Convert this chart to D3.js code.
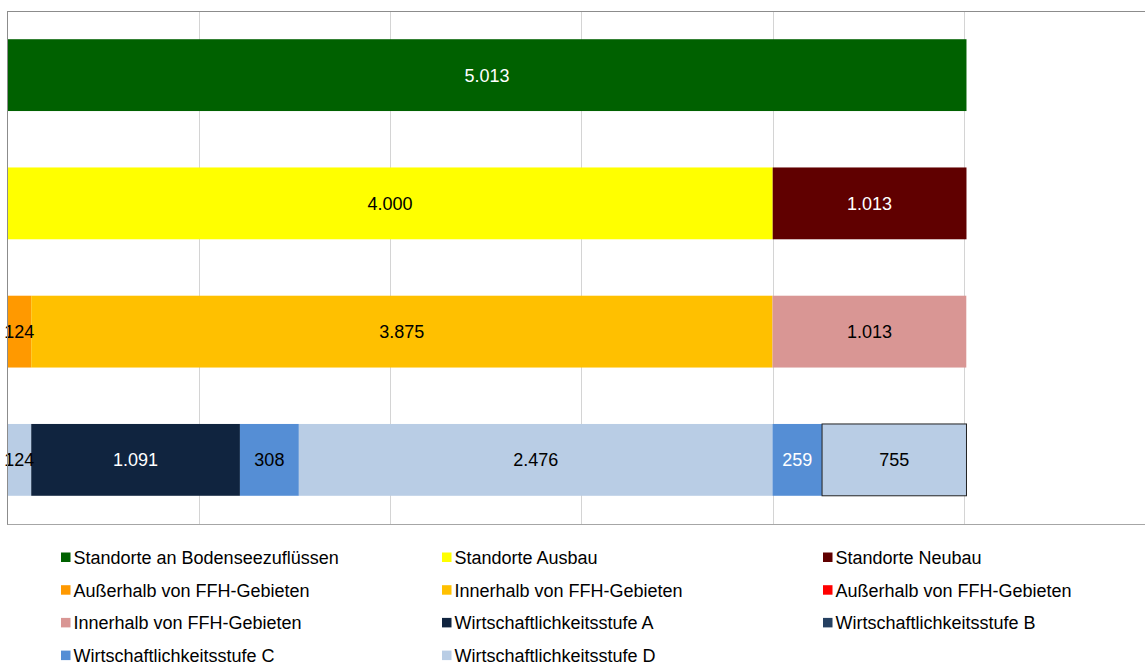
<!DOCTYPE html>
<html>
<head>
<meta charset="utf-8">
<script src="https://cdn.jsdelivr.net/npm/d3@7"></script>
<style>
  html, body { margin: 0; padding: 0; background: #fff; }
  svg { display: block; font-family: "Liberation Sans", Arial, sans-serif; }
</style>
</head>
<body>
<svg id="chart" width="1145" height="666"></svg>
<script>
// Row identifiers (bars from top to bottom)
const rows = ["bodensee", "ausbauNeubau", "ffh", "wirtschaftlichkeit"];

// Series shown in the legend, in legend order
const seriesNames = [
  "Standorte an Bodenseezuflüssen",
  "Standorte Ausbau",
  "Standorte Neubau",
  "Außerhalb von FFH-Gebieten",
  "Innerhalb von FFH-Gebieten",
  "Außerhalb von FFH-Gebieten",
  "Innerhalb von FFH-Gebieten",
  "Wirtschaftlichkeitsstufe A",
  "Wirtschaftlichkeitsstufe B",
  "Wirtschaftlichkeitsstufe C",
  "Wirtschaftlichkeitsstufe D"
];
const seriesColors = [
  "#006100", "#FFFF00", "#600000",
  "#FF9900", "#FFC000", "#FF0000",
  "#D99694", "#10243F", "#254061",
  "#558ED5", "#B9CDE5"
];

// Segments of each bar, left to right: series index and value
const row1Series = [0];
const row1Values = [5013];
const row2Series = [1, 2];
const row2Values = [4000, 1013];
const row3Series = [3, 4, 5, 6];
const row3Values = [124, 3875, 0, 1013];
const row4Series = [10, 7, 9, 10, 8, 9, 10];
const row4Values = [124, 1091, 308, 2476, 0, 259, 755];

// Axis ticks (values only, labels hidden)
const xTicks = [0, 1000, 2000, 3000, 4000, 5000, 6000];

// Label colour for each segment
const row1LabelColors = ["#fff"];
const row2LabelColors = ["#000", "#fff"];
const row3LabelColors = ["#000", "#000", "#000", "#000"];
const row4LabelColors = ["#000", "#fff", "#000", "#000", "#000", "#fff", "#000"];

const rowSeries = [row1Series, row2Series, row3Series, row4Series];
const rowValues = [row1Values, row2Values, row3Values, row4Values];
const rowLabelColors = [row1LabelColors, row2LabelColors, row3LabelColors, row4LabelColors];

const svg = d3.select("#chart");
const W = 1145, H = 666;
const plot = { left: 7.5, top: 11, bottom: 524 };

const x = d3.scaleLinear().domain([0, 6000]).range([plot.left, plot.left + 6 * 191.3]);
const y = d3.scaleBand().domain(rows).range([plot.top, plot.bottom])
  .paddingInner(0.44).paddingOuter(0.22);

const fmt = d3.formatLocale({ decimal: ",", thousands: ".", grouping: [3], currency: ["", " €"] }).format(",d");

// Vertical gridlines
svg.append("g")
  .selectAll("line")
  .data(xTicks.slice(1))
  .join("line")
  .attr("x1", d => Math.round(x(d)) + 0.5)
  .attr("x2", d => Math.round(x(d)) + 0.5)
  .attr("y1", plot.top)
  .attr("y2", plot.bottom)
  .attr("stroke", "#d4d4d4")
  .attr("stroke-width", 1);

// Build segments with running offsets
const segments = [];
rows.forEach((r, i) => {
  let acc = 0;
  rowSeries[i].forEach((s, j) => {
    const v = rowValues[i][j];
    segments.push({ row: r, series: s, value: v, x0: acc, x1: acc + v, labelColor: rowLabelColors[i][j], outlined: i === 3 && j === rowSeries[i].length - 1 });
    acc += v;
  });
});

const shown = segments.filter(d => d.value > 0);

svg.append("g")
  .selectAll("rect")
  .data(shown)
  .join("rect")
  .attr("x", d => x(d.x0))
  .attr("y", d => y(d.row))
  .attr("width", d => x(d.x1) - x(d.x0))
  .attr("height", y.bandwidth())
  .attr("fill", d => seriesColors[d.series])
  .attr("stroke", d => d.outlined ? "#222" : "none")
  .attr("stroke-width", 1);

// Value labels
svg.append("g")
  .selectAll("text")
  .data(shown)
  .join("text")
  .attr("x", d => (x(d.x0) + x(d.x1)) / 2)
  .attr("y", d => y(d.row) + y.bandwidth() / 2)
  .attr("dy", "0.36em")
  .attr("text-anchor", "middle")
  .attr("font-size", 18)
  .attr("fill", d => d.labelColor)
  .text(d => fmt(d.value));

// Plot frame: top, left and bottom edges
const yTop = plot.top + 0.5, yBot = plot.bottom + 0.5;
svg.append("line").attr("x1", plot.left).attr("x2", W).attr("y1", yTop).attr("y2", yTop).attr("stroke", "#8c8c8c");
svg.append("line").attr("x1", plot.left).attr("x2", plot.left).attr("y1", plot.top).attr("y2", plot.bottom + 1).attr("stroke", "#8c8c8c");
svg.append("line").attr("x1", plot.left).attr("x2", W).attr("y1", yBot).attr("y2", yBot).attr("stroke", "#a6a6a6");

// Legend: three columns
const legendCols = [61, 442, 823];
const legendRow0 = 557.5, legendRowStep = 32.7;
const legend = svg.append("g")
  .selectAll("g")
  .data(seriesNames.map((name, i) => ({ name, color: seriesColors[i], i })))
  .join("g")
  .attr("transform", d => `translate(${legendCols[d.i % 3]},${legendRow0 + Math.floor(d.i / 3) * legendRowStep})`);

legend.append("rect")
  .attr("x", 0).attr("y", -5)
  .attr("width", 9.5).attr("height", 9.5)
  .attr("fill", d => d.color);

legend.append("text")
  .attr("x", 12.5)
  .attr("dy", "0.36em")
  .attr("font-size", 18)
  .attr("fill", "#000")
  .text(d => d.name);
</script>
</body>
</html>
